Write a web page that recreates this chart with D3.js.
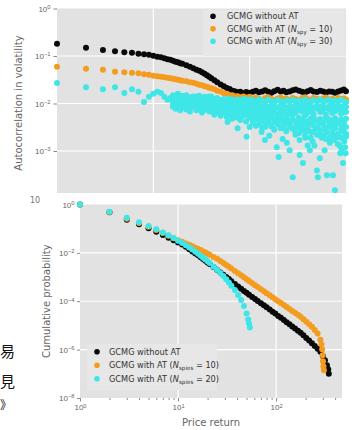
<!DOCTYPE html>
<html>
<head>
<meta charset="utf-8">
<script src="https://cdn.jsdelivr.net/npm/d3@7"></script>
<style>
  body { margin: 0; background: #fff; }
  svg { display: block; font-family: "DejaVu Sans", sans-serif; }
</style>
</head>
<body>
<svg id="chart" width="352" height="430"></svg>
<script>
// ---------- top panel: autocorrelation in volatility vs lag ----------
const topLags = [1, 2, 3, 4, 5, 6, 7, 8, 9, 10, 11, 12, 13, 14, 15, 16, 17, 18, 19, 20,
  22, 24, 26, 28, 30, 32, 34, 36, 38, 40,
  43, 46, 50, 54, 58, 62, 66, 70, 75, 80, 86, 92, 100,
  108, 116, 125, 135, 145, 156, 168, 180, 195, 210, 225, 240, 260, 280, 300,
  325, 350, 375, 400, 430, 460, 500, 540, 580, 620, 670, 720, 770, 830, 890, 950, 1000];

const topBlack = [0.182, 0.150, 0.133, 0.126, 0.120, 0.117, 0.112, 0.109, 0.1066, 0.1015,
  0.0967, 0.0944, 0.0899, 0.0856, 0.0835, 0.0796, 0.0757, 0.0740, 0.0705, 0.0688,
  0.0639, 0.0594, 0.0553, 0.0513, 0.0489, 0.0455, 0.0423, 0.0393, 0.0365, 0.0340,
  0.0308, 0.0281, 0.0250, 0.0232, 0.0212, 0.0201, 0.0186, 0.0182, 0.0172, 0.0176, 0.0165, 0.0174, 0.0168,
  0.0176, 0.0185, 0.0172, 0.0180, 0.0190, 0.0176, 0.0168, 0.0182, 0.0194, 0.0178, 0.0185, 0.0172, 0.0180, 0.0190, 0.0198,
  0.0185, 0.0176, 0.0170, 0.0182, 0.0192, 0.0180, 0.0174, 0.0186, 0.0178, 0.0170, 0.0180, 0.0176, 0.0168, 0.0178, 0.0188, 0.0196, 0.0182];

const topOrange = [0.0594, 0.0539, 0.0513, 0.0466, 0.0455, 0.0444, 0.0433, 0.0412, 0.0402, 0.0383,
  0.0374, 0.0365, 0.0356, 0.0348, 0.0340, 0.0331, 0.0323, 0.0315, 0.0308, 0.0301,
  0.0293, 0.0279, 0.0273, 0.0260, 0.0247, 0.0241, 0.0230, 0.0224, 0.0214, 0.0209,
  0.0199, 0.0186, 0.0178, 0.0165, 0.0161, 0.0150, 0.0149, 0.0142, 0.0143, 0.0136, 0.0140, 0.0133, 0.0138,
  0.0121, 0.0132, 0.0126, 0.0119, 0.0130, 0.0136, 0.0124, 0.0117, 0.0128, 0.0134, 0.0122, 0.0127, 0.0119, 0.0131, 0.0125,
  0.0117, 0.0129, 0.0135, 0.0123, 0.0119, 0.0130, 0.0126, 0.0118, 0.0128, 0.0133, 0.0122, 0.0126, 0.0120, 0.0130, 0.0125, 0.0128, 0.0121];

// cyan, lags 1-15 (single points)
const topCyanFirst = [0.027, 0.022, 0.020, 0.022, 0.0167, 0.020, 0.0176, 0.0108, 0.0138, 0.016, 0.0176, 0.0167, 0.0138, 0.012, 0.013];
// cyan, lags 16-1000 (the spread cloud, several points per lag)
const topCyanA = [0.015, 0.013, 0.016, 0.014, 0.0135, 0.015, 0.0125, 0.014, 0.013, 0.0145, 0.012, 0.0135, 0.013, 0.0125, 0.014,
  0.0125, 0.0130, 0.0118, 0.0124, 0.0112, 0.0128, 0.0120, 0.0115, 0.0122, 0.0110, 0.0126, 0.0118, 0.0121,
  0.0118, 0.0110, 0.0122, 0.0115, 0.0108, 0.0120, 0.0113, 0.0106, 0.0118, 0.0112, 0.0104, 0.0116, 0.0110, 0.0120, 0.0108,
  0.0115, 0.0108, 0.0120, 0.0112, 0.0105, 0.0118, 0.0110, 0.0122, 0.0106, 0.0114, 0.0118, 0.0108, 0.0116, 0.0110, 0.0120, 0.0112, 0.0106];
const topCyanB = [0.011, 0.0118, 0.0105, 0.0112, 0.0098, 0.0108, 0.0115, 0.010, 0.0105, 0.0095, 0.011, 0.010, 0.0092, 0.0105, 0.0098,
  0.0090, 0.0082, 0.0095, 0.0078, 0.0088, 0.0080, 0.0074, 0.0090, 0.0083, 0.0076, 0.0086, 0.0070, 0.0080,
  0.0078, 0.0070, 0.0082, 0.0066, 0.0075, 0.0062, 0.0072, 0.0068, 0.0060, 0.0074, 0.0065, 0.0058, 0.0070, 0.0062, 0.0068,
  0.0075, 0.0068, 0.0080, 0.0064, 0.0072, 0.0060, 0.0078, 0.0066, 0.0070, 0.0058, 0.0074, 0.0063, 0.0069, 0.0076, 0.0061, 0.0072, 0.0066];
const topCyanC = [0.0085, 0.0078, 0.0092, 0.0072, 0.0082, 0.0075, 0.0068, 0.0085, 0.0072, 0.0078, 0.0065, 0.0074, 0.0080, 0.0068, 0.0072,
  0.0062, 0.0068, 0.0055, 0.0064, 0.0052, 0.0060, 0.0048, 0.0058, 0.0050, 0.0045, 0.0055, 0.0042, 0.0050,
  0.0042, 0.0050, 0.0036, 0.0045, 0.0032, 0.0040, 0.0035, 0.0028, 0.0038, 0.0030, 0.0034, 0.0026, 0.0032, 0.0029, 0.0024,
  0.0032, 0.0040, 0.0028, 0.0036, 0.0025, 0.0034, 0.0030, 0.0022, 0.0038, 0.0027, 0.0033, 0.0024, 0.0030, 0.0020, 0.0028, 0.0032, 0.0023];
const topCyanD = [0.0125, 0.012, 0.0128, 0.0118, 0.0122, 0.0116, 0.0124, 0.0112, 0.0120, 0.0115, 0.0121, 0.0110, 0.0118, 0.0114, 0.0119,
  0.0072, 0.0066, 0.0075, 0.0064, 0.0070, 0.0068, 0.0062, 0.0071, 0.0065, 0.0060, 0.0068, 0.0058, 0.0064,
  0.0058, 0.0052, 0.0055, 0.0050, 0.0054, 0.0048, 0.0052, 0.0046, 0.0050, 0.0049, 0.0045, 0.0047, 0.0044, 0.0046, 0.0042,
  0.0050, 0.0045, 0.0055, 0.0042, 0.0048, 0.0052, 0.0044, 0.0047, 0.0040, 0.0050, 0.0046, 0.0043, 0.0049, 0.0041, 0.0046, 0.0044, 0.0048];
const topCyanE = [0.0092, 0.0098, 0.0088, 0.0095, 0.0090, 0.0086, 0.0094, 0.0089, 0.0083, 0.0091, 0.0087, 0.0082, 0.0090, 0.0085, 0.0088,
  0.0105, 0.0100, 0.0108, 0.0098, 0.0102, 0.0096, 0.0104, 0.0099, 0.0094, 0.0101, 0.0097, 0.0092, 0.0099,
  0.0092, 0.0088, 0.0095, 0.0086, 0.0090, 0.0084, 0.0091, 0.0087, 0.0082, 0.0089, 0.0085, 0.0080, 0.0088, 0.0083, 0.0086,
  0.0090, 0.0085, 0.0093, 0.0082, 0.0088, 0.0079, 0.0091, 0.0084, 0.0087, 0.0080, 0.0089, 0.0083, 0.0086, 0.0092, 0.0081, 0.0088, 0.0084];
const topCyanF = [0.0105, 0.0088, 0.0100, 0.0082, 0.0095, 0.0104, 0.0080, 0.0092, 0.0099, 0.0078, 0.0094, 0.0086, 0.0101, 0.0079, 0.0090,
  0.0058, 0.0075, 0.0062, 0.0082, 0.0054, 0.0070, 0.0057, 0.0066, 0.0078, 0.0052, 0.0064, 0.0074, 0.0056,
  0.0040, 0.0034, 0.0044, 0.0031, 0.0038, 0.0046, 0.0033, 0.0041, 0.0036, 0.0043, 0.0030, 0.0039, 0.0035, 0.0042, 0.0032,
  0.0038, 0.0034, 0.0042, 0.0030, 0.0039, 0.0044, 0.0033, 0.0040, 0.0036, 0.0031, 0.0041, 0.0037, 0.0034, 0.0043, 0.0035, 0.0039, 0.0032];
const topCyanG = [0.0135, 0.0142, 0.0128, 0.0138, 0.0145, 0.0130, 0.0136, 0.0127, 0.0141, 0.0132, 0.0126, 0.0139, 0.0133, 0.0140, 0.0129,
  0.0085, 0.0094, 0.0079, 0.0100, 0.0086, 0.0092, 0.0078, 0.0096, 0.0088, 0.0082, 0.0093, 0.0084, 0.0090,
  0.0065, 0.0060, 0.0070, 0.0056, 0.0064, 0.0072, 0.0058, 0.0066, 0.0054, 0.0062, 0.0069, 0.0055, 0.0061, 0.0057, 0.0063,
  0.0024, 0.0027, 0.0021, 0.0026, 0.0019, 0.0025, 0.0022, 0.0028, 0.0020, 0.0024, 0.0018, 0.0026, 0.0021, 0.0023, 0.0019, 0.0025, 0.0020];
// cyan, isolated low points [lag, value]
const topCyanLow = [[59, 0.0041], [75, 0.0030], [93, 0.0020], [100, 0.0032], [133, 0.0025], [144, 0.0017], [160, 0.0021],
  [191, 0.0012], [200, 0.00075], [220, 0.0018], [243, 0.0015], [260, 0.00104], [280, 0.00028], [300, 0.0022],
  [330, 0.00082], [330, 0.0017], [357, 0.00056], [380, 0.0019], [400, 0.0013], [422, 0.00104], [450, 0.0016],
  [470, 0.0013], [499, 0.00039], [511, 0.00028], [520, 0.0022], [535, 0.0007], [560, 0.0019], [600, 0.00104],
  [620, 0.0018], [634, 0.00031], [680, 0.0015], [700, 0.0021], [732, 0.00031], [760, 0.0017], [768, 0.00015],
  [820, 0.0014], [860, 0.0013], [870, 0.0009], [900, 0.0011], [930, 0.00056], [960, 0.0016], [980, 0.0012], [990, 0.0009]];

const topYTicks = [1, 0.1, 0.01, 0.001];
const topXGrid = [10, 100];

// ---------- bottom panel: cumulative probability vs price return ----------
const botBlackX = [1, 2, 3, 4, 5, 6, 7, 8, 9, 10, 11, 12, 13, 14, 15, 16, 17, 18, 19, 20, 21,
  23, 25, 27, 29, 31, 33, 35, 38, 41, 44, 47, 50, 53, 57, 61, 65, 70, 75, 80, 86, 92, 98,
  105, 112, 120, 128, 137, 146, 156, 167, 178, 190, 203, 217, 232, 248, 265, 283, 300, 315, 330, 340, 345];
const botBlackP = [1, 0.48, 0.235, 0.152, 0.105, 0.074, 0.055, 0.042, 0.033, 0.027,
  0.0220, 0.0178, 0.0141, 0.01142, 0.00935, 0.00789, 0.00665, 0.00556, 0.00473, 0.00399, 0.00346,
  0.00260, 0.00202, 0.00156, 0.00126, 0.00100, 8.27e-4, 6.72e-4, 5.15e-4, 4.07e-4, 3.27e-4, 2.68e-4, 2.22e-4, 1.85e-4,
  1.49e-4, 1.23e-4, 1.03e-4, 8.36e-5, 6.85e-5, 5.66e-5, 4.55e-5, 3.70e-5, 3.09e-5,
  2.48e-5, 2.06e-5, 1.67e-5, 1.37e-5, 1.11e-5, 9.1e-6, 7.45e-6, 6.05e-6, 4.96e-6, 3.92e-6, 3.06e-6, 2.39e-6,
  1.85e-6, 1.42e-6, 1.09e-6, 8.2e-7, 5.4e-7, 3.6e-7, 2.26e-7, 1.55e-7, 1.0e-7];

const botOrangeX = [1, 2, 3, 4, 5, 6, 7, 8, 9, 10, 11, 12, 13, 14, 15, 16, 17, 18, 19, 20, 21,
  23, 25, 27, 29, 31, 33, 35, 38, 41, 44, 47, 50, 53, 57, 61, 65, 70, 75, 80, 86, 92, 98,
  105, 112, 120, 128, 137, 146, 156, 167, 178, 190, 203, 217, 232, 248, 265, 283, 290, 295, 298, 301, 304, 307];
const botOrangeP = [1, 0.49, 0.26, 0.172, 0.12, 0.088, 0.066, 0.051, 0.040, 0.033,
  0.0285, 0.0246, 0.0215, 0.0189, 0.0164, 0.0146, 0.0130, 0.01153, 0.01028, 0.00918, 0.00828,
  0.00678, 0.00566, 0.00460, 0.00380, 0.00318, 0.00268, 0.00228, 0.00180, 0.00145, 0.00119, 9.8e-4, 8.2e-4, 6.92e-4,
  5.61e-4, 4.64e-4, 3.88e-4, 3.15e-4, 2.58e-4, 2.13e-4, 1.75e-4, 1.45e-4, 1.22e-4,
  1.01e-4, 8.43e-5, 6.92e-5, 5.77e-5, 4.78e-5, 3.99e-5, 3.33e-5, 2.76e-5, 2.28e-5, 1.82e-5, 1.43e-5, 1.13e-5,
  8.85e-6, 6.53e-6, 4.60e-6, 2.53e-6, 1.65e-6, 1.03e-6, 5.8e-7, 3.3e-7, 2.06e-7, 1.41e-7];

const botCyanX = [1, 2, 3, 4, 5, 6, 7, 8, 9, 10, 11, 12, 13, 14, 15, 16, 17, 18, 19, 20, 21,
  23, 25, 27, 29, 31, 33, 35, 38, 41, 44, 47, 50, 52, 53, 54];
const botCyanP = [1, 0.5, 0.28, 0.185, 0.13, 0.095, 0.07, 0.053, 0.041, 0.032,
  0.0258, 0.0208, 0.0168, 0.0137, 0.0112, 0.0092, 0.0076, 0.0063, 0.0053, 0.0045, 0.0038,
  0.0027, 0.0020, 0.00146, 0.00110, 8.1e-4, 6.0e-4, 4.4e-4, 2.9e-4, 1.83e-4, 1.12e-4, 6.3e-5, 3.1e-5, 1.75e-5, 1.2e-5, 8.2e-6];

const botYTicks = [1, 1e-2, 1e-4, 1e-6, 1e-8];
const botXTicks = [1, 10, 100];
const botXMinor = [2, 3, 4, 5, 6, 7, 8, 9, 20, 30, 40, 50, 60, 70, 80, 90, 200, 300, 400];

const colors = ['#0a0a0a', '#f39c1e', '#3ee6e8'];
const panelBg = '#e2e2e2';
const legendBg = '#e7e7e7';

const svg = d3.select('#chart');

// Stray glyphs from the scanned page on the left edge
svg.append('g').attr('font-family', '"Noto Sans CJK SC", sans-serif').attr('fill', '#111')
  .selectAll('text')
  .data([['易', 0, 357, 15], ['見', 0, 387, 15], ['》', 0, 410, 12]])
  .join('text')
  .attr('x', d => d[1]).attr('y', d => d[2]).attr('font-size', d => d[3]).text(d => d[0]);

function powerLabels(g, size) {
  g.selectAll('.tick text').text(null)
    .attr('fill', '#666').attr('font-size', size)
    .each(function (d) {
      const e = Math.round(Math.log10(d));
      const t = d3.select(this);
      t.append('tspan').text('10');
      t.append('tspan').attr('dy', '-0.45em').attr('font-size', size * 0.72)
        .text(e < 0 ? '\u2212' + (-e) : e);
    });
}

function styleAxis(g) {
  g.select('.domain').remove();
  g.selectAll('.tick line').attr('stroke', '#888');
}

function drawDots(g, pts, x, y, color, r) {
  g.append('g').selectAll('circle')
    .data(pts)
    .join('circle')
    .attr('cx', d => x(d[0]))
    .attr('cy', d => y(d[1]))
    .attr('r', r)
    .attr('fill', color);
}

function legendText(g, x, y, label, sub, tail) {
  const t = g.append('text').attr('x', x).attr('y', y).attr('font-size', 8.2).attr('fill', '#333');
  t.append('tspan').text(label);
  if (sub) {
    t.append('tspan').attr('font-style', 'italic').text('N');
    t.append('tspan').attr('dy', 2).attr('font-size', 5.6).text(sub);
    t.append('tspan').attr('dy', -2).text(tail);
  }
}

// ================= TOP PANEL =================
const T = { left: 57, right: 346, top: 8.5, bottom: 193 };
const xTop = d3.scaleLog().domain([1, 1000]).range([T.left, T.right]);
const yTop = d3.scaleLog().domain([Math.pow(10, -3.884), 1]).range([T.bottom, T.top]);

const gTop = svg.append('g');
gTop.append('rect')
  .attr('x', T.left).attr('y', T.top)
  .attr('width', T.right - T.left).attr('height', T.bottom - T.top)
  .attr('fill', panelBg);

// grid
gTop.append('g').selectAll('line').data(topYTicks.slice(1)).join('line')
  .attr('x1', T.left).attr('x2', T.right)
  .attr('y1', d => yTop(d)).attr('y2', d => yTop(d))
  .attr('stroke', '#fff').attr('stroke-width', 1.2);
gTop.append('g').selectAll('line').data(topXGrid).join('line')
  .attr('x1', d => xTop(d)).attr('x2', d => xTop(d))
  .attr('y1', T.top).attr('y2', T.bottom)
  .attr('stroke', '#fff').attr('stroke-width', 1.2);

// Y axis
const gTopY = gTop.append('g')
  .attr('transform', 'translate(' + T.left + ',0)')
  .call(d3.axisLeft(yTop).tickValues(topYTicks).tickSize(3.5).tickPadding(3));
styleAxis(gTopY);
powerLabels(gTopY, 8);

gTop.append('text')
  .attr('transform', 'translate(22,103) rotate(-90)')
  .attr('text-anchor', 'middle').attr('font-size', 10).attr('fill', '#666')
  .text('Autocorrelation in volatility');

// points
drawDots(gTop, d3.zip(topLags, topBlack), xTop, yTop, colors[0], 3);
drawDots(gTop, d3.zip(topLags, topOrange), xTop, yTop, colors[1], 3);
const restLags = topLags.slice(15);
const cyanPts = d3.zip(topLags.slice(0, 15), topCyanFirst)
  .concat(d3.zip(restLags, topCyanA), d3.zip(restLags, topCyanB), d3.zip(restLags, topCyanC),
    d3.zip(restLags, topCyanD), d3.zip(restLags, topCyanE), d3.zip(restLags, topCyanF),
    d3.zip(restLags, topCyanG), topCyanLow);
drawDots(gTop, cyanPts, xTop, yTop, colors[2], 3);

// legend
const gTopLeg = gTop.append('g');
gTopLeg.append('rect').attr('x', 203).attr('y', 10).attr('width', 142).attr('height', 46).attr('fill', legendBg);
[19, 31.5, 44].forEach((yy, i) => {
  gTopLeg.append('circle').attr('cx', 213).attr('cy', yy - 2.7).attr('r', 2.8).attr('fill', colors[i]);
});
legendText(gTopLeg, 227, 19, 'GCMG without AT');
legendText(gTopLeg, 227, 31.5, 'GCMG with AT (', 'spy', ' = 10)');
legendText(gTopLeg, 227, 44, 'GCMG with AT (', 'spy', ' = 30)');

// fragment of a tick label peeking out between the panels
svg.append('text').attr('x', 30).attr('y', 203).attr('font-size', 8).attr('fill', '#777').text('10');

// ================= BOTTOM PANEL =================
const B = { left: 80, right: 342, top: 204.5, bottom: 398 };
const xBot = d3.scaleLog().domain([1, 470]).range([B.left, B.right]);
const yBot = d3.scaleLog().domain([1e-8, 1]).range([B.bottom, B.top]);

const gBot = svg.append('g');
gBot.append('rect')
  .attr('x', B.left).attr('y', B.top)
  .attr('width', B.right - B.left).attr('height', B.bottom - B.top)
  .attr('fill', panelBg);

gBot.append('g').selectAll('line').data(botYTicks.slice(1, -1)).join('line')
  .attr('x1', B.left).attr('x2', B.right)
  .attr('y1', d => yBot(d)).attr('y2', d => yBot(d))
  .attr('stroke', '#fff').attr('stroke-width', 1.2);
gBot.append('g').selectAll('line').data(botXTicks.slice(1)).join('line')
  .attr('x1', d => xBot(d)).attr('x2', d => xBot(d))
  .attr('y1', B.top).attr('y2', B.bottom)
  .attr('stroke', '#fff').attr('stroke-width', 1.2);

// Y axis
const gBotY = gBot.append('g')
  .attr('transform', 'translate(' + B.left + ',0)')
  .call(d3.axisLeft(yBot).tickValues(botYTicks).tickSize(3).tickPadding(2.5));
styleAxis(gBotY);
powerLabels(gBotY, 8);

// X axis, major + minor ticks
const gBotX = gBot.append('g')
  .attr('transform', 'translate(0,' + B.bottom + ')')
  .call(d3.axisBottom(xBot).tickValues(botXTicks).tickSize(3.5).tickPadding(3));
styleAxis(gBotX);
powerLabels(gBotX, 8);
const gBotXm = gBot.append('g')
  .attr('transform', 'translate(0,' + B.bottom + ')')
  .call(d3.axisBottom(xBot).tickValues(botXMinor).tickSize(2).tickFormat(''));
styleAxis(gBotXm);

gBot.append('text')
  .attr('transform', 'translate(50,' + ((B.top + B.bottom) / 2) + ') rotate(-90)')
  .attr('text-anchor', 'middle').attr('font-size', 10).attr('fill', '#666')
  .text('Cumulative probability');
gBot.append('text')
  .attr('x', 211).attr('y', 426)
  .attr('text-anchor', 'middle').attr('font-size', 10).attr('fill', '#666')
  .text('Price return');

drawDots(gBot, d3.zip(botBlackX, botBlackP), xBot, yBot, colors[0], 3);
drawDots(gBot, d3.zip(botOrangeX, botOrangeP), xBot, yBot, colors[1], 3);
drawDots(gBot, d3.zip(botCyanX, botCyanP), xBot, yBot, colors[2], 3);

// legend
const gBotLeg = gBot.append('g');
gBotLeg.append('rect').attr('x', 87).attr('y', 344).attr('width', 130).attr('height', 46).attr('fill', legendBg);
[354.5, 368, 381.5].forEach((yy, i) => {
  gBotLeg.append('circle').attr('cx', 97).attr('cy', yy - 2.7).attr('r', 2.8).attr('fill', colors[i]);
});
legendText(gBotLeg, 109, 354.5, 'GCMG without AT');
legendText(gBotLeg, 109, 368, 'GCMG with AT (', 'spies', ' = 10)');
legendText(gBotLeg, 109, 381.5, 'GCMG with AT (', 'spies', ' = 20)');
</script>
</body>
</html>
